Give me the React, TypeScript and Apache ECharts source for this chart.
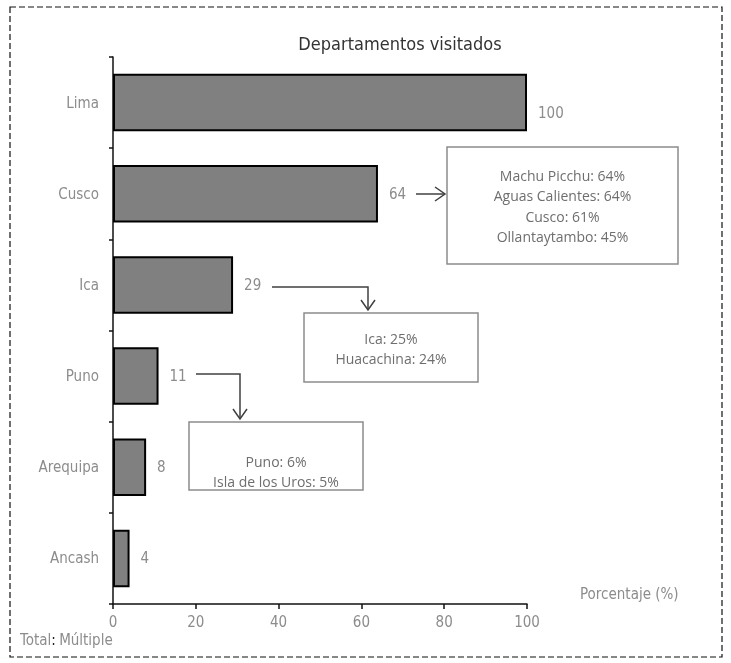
import React, { useEffect, useRef } from "react";
import * as echarts from "echarts";

const categories = ["Lima", "Cusco", "Ica", "Puno", "Arequipa", "Ancash"];
const values = [100, 64, 29, 11, 8, 4];
const xTicks = [0, 20, 40, 60, 80, 100];
const cuscoNotes = ["Machu Picchu: 64%", "Aguas Calientes: 64%", "Cusco: 61%", "Ollantaytambo: 45%"];
const icaNotes = ["Ica: 25%", "Huacachina: 24%"];
const punoNotes = ["Puno: 6%", "Isla de los Uros: 5%"];

const NARROW = "'Liberation Sans Narrow', 'DejaVu Sans Condensed', sans-serif";
const BOXFONT = "'Open Sans', 'Noto Sans', sans-serif";

function box(x: number, y: number, w: number, h: number, lines: string[], textY: number) {
  return [
    {
      type: "rect",
      shape: { x, y, width: w, height: h },
      style: { fill: "#fff", stroke: "#8c8c8c", lineWidth: 1.5 },
    },
    {
      type: "text",
      x: x + w / 2,
      y: textY,
      style: {
        text: lines.join("\n"),
        fill: "#6e6e6e",
        font: `14px ${BOXFONT}`,
        align: "center",
        verticalAlign: "top",
        lineHeight: 20.5,
      },
    },
  ];
}

function arrowHead(x: number, y: number, dir: "right" | "down") {
  const pts =
    dir === "right"
      ? [[x - 10, y - 7], [x, y], [x - 10, y + 7]]
      : [[x - 7, y - 10], [x, y], [x + 7, y - 10]];
  return {
    type: "polyline",
    shape: { points: pts },
    style: { stroke: "#404040", lineWidth: 1.5, fill: "none" },
  };
}

export default function App() {
  const ref = useRef<HTMLDivElement>(null);
  useEffect(() => {
    const chart = echarts.init(ref.current!, undefined, { renderer: "svg" });
    chart.setOption({
      animation: false,
      title: {
        text: "Departamentos visitados",
        left: 395,
        top: 29,
        textAlign: "center",
        textStyle: { fontFamily: NARROW, fontSize: 18, fontWeight: "normal", color: "#333" },
      },
      grid: { left: 113, right: 204, top: 57, bottom: 59 },
      xAxis: {
        type: "value",
        min: 0,
        max: 100,
        interval: 20,
        splitLine: { show: false },
        axisLine: { show: true, lineStyle: { color: "#111", width: 1.5 } },
        axisTick: { show: true, length: 5, lineStyle: { color: "#111", width: 1.5 } },
        axisLabel: { color: "#8c8c8c", fontSize: 15, fontFamily: NARROW, margin: 10,
          formatter: (v: number) => (xTicks.includes(v) ? String(v) : "") },
      },
      yAxis: {
        type: "category",
        data: categories,
        inverse: true,
        axisLine: { show: true, lineStyle: { color: "#111", width: 1.5 } },
        axisTick: { show: true, length: 4, lineStyle: { color: "#111", width: 1.5 } },
        axisLabel: { color: "#8c8c8c", fontSize: 15, fontFamily: NARROW, margin: 14 },
      },
      series: [
        {
          type: "bar",
          data: values.map((v, i) => ({
            value: v,
            label: i === 0 ? { offset: [0, 10] } : undefined,
          })),
          barCategoryGap: "37%",
          itemStyle: { color: "#808080", borderColor: "#000", borderWidth: 2 },
          label: {
            show: true,
            position: "right",
            distance: 11,
            color: "#8c8c8c",
            fontSize: 15,
            fontFamily: NARROW,
          },
        },
      ],
      graphic: [
        {
          type: "rect",
          shape: { x: 10, y: 7, width: 712, height: 650 },
          style: { fill: "none", stroke: "#111", lineWidth: 1.2, lineDash: [6, 3] },
          silent: true,
        },
        {
          type: "text",
          x: 580,
          y: 586,
          style: { text: "Porcentaje (%)", fill: "#8c8c8c", font: `15px ${NARROW}` },
        },
        {
          type: "text",
          x: 20,
          y: 632,
          style: {
            text: "{a|Total}{b|:} {a|Múltiple}",
            rich: {
              a: { fill: "#8c8c8c", fontSize: 15, fontFamily: NARROW },
              b: { fill: "#222", fontSize: 15, fontFamily: NARROW },
            },
          },
        },
        ...box(447, 147, 231, 117, cuscoNotes, 165),
        ...box(304, 313, 174, 69, icaNotes, 328),
        ...box(189, 422, 174, 68, punoNotes, 451),
        { type: "line", shape: { x1: 416, y1: 194, x2: 445, y2: 194 }, style: { stroke: "#404040", lineWidth: 1.5 } },
        arrowHead(445, 194, "right"),
        { type: "polyline", shape: { points: [[272, 287], [368, 287], [368, 310]] }, style: { stroke: "#404040", lineWidth: 1.5, fill: "none" } },
        arrowHead(368, 310, "down"),
        { type: "polyline", shape: { points: [[196, 374], [240, 374], [240, 419]] }, style: { stroke: "#404040", lineWidth: 1.5, fill: "none" } },
        arrowHead(240, 419, "down"),
      ],
    });
    return () => chart.dispose();
  }, []);
  return <div ref={ref} style={{ position: "fixed", left: 0, top: 0, width: 731, height: 663 }} />;
}
